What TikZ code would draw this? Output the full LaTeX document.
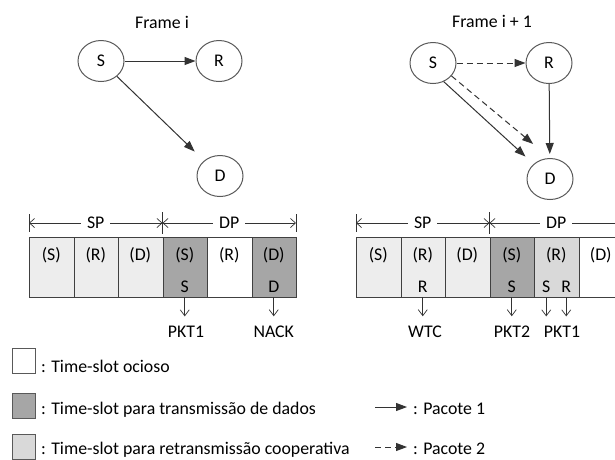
\documentclass[tikz,border=0pt]{standalone}
\usepackage{fontspec}
\setmainfont{Carlito}
\usetikzlibrary{arrows.meta, shapes.geometric}

\begin{document}
\begin{tikzpicture}[x=1pt, y=-1pt, font=\fontsize{17.8}{21}\selectfont]

\useasboundingbox (0,0) rectangle (615,459);

% define styles
\tikzstyle{station}=[ellipse, draw=black!65, line width=1pt, minimum width=46, minimum height=41, inner sep=0pt]
\tikzstyle{pkt1}=[-{Triangle[length=11pt,width=8pt]}, line width=1pt, draw=black!80]
\tikzstyle{pkt2}=[pkt1, dash pattern=on 6pt off 4pt]
\tikzstyle{slot}=[draw=black!75, line width=1.1pt, minimum width=44.5, minimum height=60, inner sep=0pt, anchor=north west]
\tikzstyle{slotidle}=[fill=white]
\tikzstyle{slotdata}=[fill=black!35]
\tikzstyle{slotcoop}=[fill=black!15]
\tikzstyle{slotctrl}=[fill=black!7]
\tikzstyle{slottext}=[anchor=base, inner sep=0pt]
\tikzstyle{period}=[{Straight Barb[length=5pt,width=9pt]}-{Straight Barb[length=5pt,width=9pt]}, line width=0.7pt, draw=black!80]
\tikzstyle{bartick}=[line width=0.7pt, draw=black!80]
\tikzstyle{slotarrow}=[-{Straight Barb[length=6pt,width=9pt]}, line width=0.7pt, draw=black!80, shorten <=5pt, shorten >=9pt]
\tikzstyle{legbox}=[draw=black!65, line width=1pt, minimum width=23, minimum height=25, inner sep=0pt]

% frame i
\node[anchor=base] (f1) at (162,28) {Frame i};
\node[station] (S1) at (101,61) {S};
\node[station] (R1) at (219,61) {R};
\node[station] (D1) at (220,176) {D};

\draw[pkt1] (S1) -- (R1);
\draw[pkt1, shorten >=13pt] (S1) -- (D1);

% frame i+1
\node[anchor=base] (f2) at (492,27) {Frame i + 1};
\node[station] (S2) at (433,63) {S};
\node[station] (R2) at (549,63) {R};
\node[station] (D2) at (550,179) {D};

\draw[pkt2] (S2) -- (R2);
\draw[pkt2, shorten >=22pt] (S2.-35) -- (D2.north);
\draw[pkt1, shorten >=11pt] (S2.-60) -- (D2);
\draw[pkt1, shorten >=4pt] (R2) -- (D2);

% slots frame i
\node[slot, slotctrl] (a1) at (29,237) {};
\node[slot, slotctrl] (a2) at (73.5,237) {};
\node[slot, slotctrl] (a3) at (118,237) {};
\node[slot, slotdata] (a4) at (162.5,237) {};
\node[slot, slotidle] (a5) at (207,237) {};
\node[slot, slotdata] (a6) at (251.5,237) {};

\node[slottext] (a1t) at (51.25,260) {(S)};
\node[slottext] (a2t) at (95.75,260) {(R)};
\node[slottext] (a3t) at (140.25,260) {(D)};
\node[slottext] (a4t) at (184.75,260) {(S)};
\node[slottext] (a5t) at (229.25,260) {(R)};
\node[slottext] (a6t) at (273.75,260) {(D)};

\node[slottext] (a4s) at (184.75,292) {S};
\node[slottext] (a6d) at (273.75,292) {D};

\node[slottext] (pa4) at (186,337) {PKT1};
\node[slottext] (pa6) at (273.75,337) {NACK};

\draw[slotarrow] (a4s) -- (a4s |- pa4.north);
\draw[slotarrow] (a6d) -- (a6d |- pa6.north);

\coordinate (sp1a) at (29,223);
\coordinate (sp1b) at (162.5,223);
\coordinate (dp1b) at (296,223);
\draw[period] (sp1a) -- (sp1b) node[midway, fill=white, inner sep=6pt] (sp1) {SP};
\draw[period] (sp1b) -- (dp1b) node[midway, fill=white, inner sep=6pt] (dp1) {DP};
\draw[bartick] (29,214) -- (29,232);
\draw[bartick] (162.5,212) -- (162.5,234);
\draw[bartick] (296,214) -- (296,232);

% slots frame i+1
\node[slot, slotctrl] (b1) at (356,237) {};
\node[slot, slotctrl] (b2) at (400.5,237) {};
\node[slot, slotctrl] (b3) at (445,237) {};
\node[slot, slotdata] (b4) at (489.5,237) {};
\node[slot, slotcoop] (b5) at (534,237) {};
\node[slot, slotidle] (b6) at (578.5,237) {};

\node[slottext] (b1t) at (378.25,260) {(S)};
\node[slottext] (b2t) at (422.75,260) {(R)};
\node[slottext] (b3t) at (467.25,260) {(D)};
\node[slottext] (b4t) at (511.75,260) {(S)};
\node[slottext] (b5t) at (556.25,260) {(R)};
\node[slottext] (b6t) at (600.75,260) {(D)};

\node[slottext] (b2r) at (422.75,292) {R};
\node[slottext] (b4s) at (511.75,292) {S};
\node[slottext] (b5s) at (546.25,292) {S};
\node[slottext] (b5r) at (566.25,292) {R};

\node[slottext] (pb2) at (425,337) {WTC};
\node[slottext] (pb4) at (512,337) {PKT2};
\node[slottext] (pb5) at (562,337) {PKT1};

\draw[slotarrow] (b2r) -- (b2r |- pb2.north);
\draw[slotarrow] (b4s) -- (b4s |- pb4.north);
\draw[slotarrow] (b5s) -- (b5s |- pb5.north);
\draw[slotarrow] (b5r) -- (b5r |- pb5.north);

\coordinate (sp2a) at (356,223);
\coordinate (sp2b) at (489.5,223);
\coordinate (dp2b) at (623,223);
\draw[period] (sp2a) -- (sp2b) node[midway, fill=white, inner sep=6pt] (sp2) {SP};
\draw[period] (sp2b) -- (dp2b) node[midway, fill=white, inner sep=6pt] (dp2) {DP};
\draw[bartick] (356,214) -- (356,232);
\draw[bartick] (489.5,212) -- (489.5,234);

% legend
\node[legbox, fill=white] (l1) at (23.5,361) {};
\node[legbox, slotdata] (l2) at (23.5,406) {};
\node[legbox, slotcoop] (l3) at (23.5,447) {};

\node[anchor=base west, inner sep=0pt] (t1) at (41,372) {: Time-slot ocioso};
\node[anchor=base west, inner sep=0pt] (t2) at (41,414) {: Time-slot para transmissão de dados};
\node[anchor=base west, inner sep=0pt] (t3) at (41,454) {: Time-slot para retransmissão cooperativa};

\node[anchor=base west, inner sep=0pt] (p1) at (413,414) {: Pacote 1};
\node[anchor=base west, inner sep=0pt] (p2) at (413,454) {: Pacote 2};

\coordinate (k1) at (375,407);
\coordinate (k2) at (375,447);
\draw[pkt1, shorten >=6pt] (k1) -- (k1 -| p1.west);
\draw[pkt2, shorten >=6pt] (k2) -- (k2 -| p2.west);

\end{tikzpicture}
\end{document}
